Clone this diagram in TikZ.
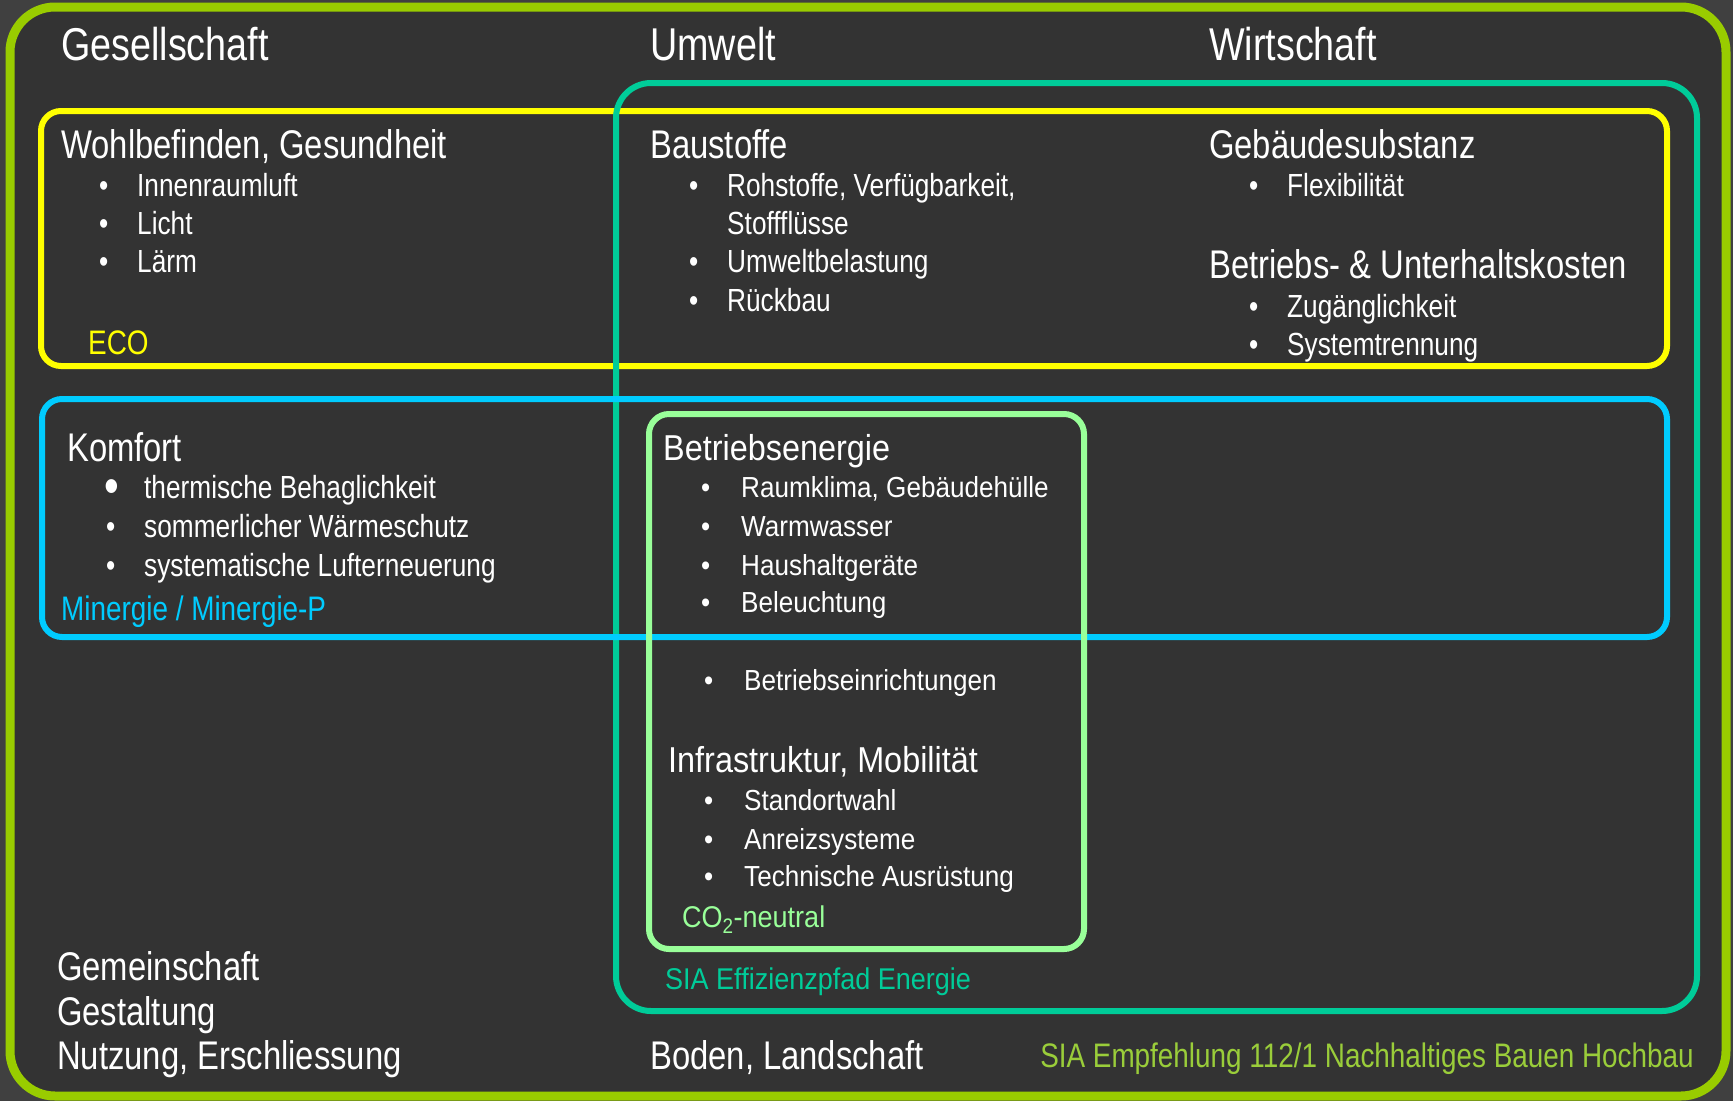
\documentclass[tikz,border=0pt]{standalone}
\usepackage{fontspec}
\setmainfont{Liberation Sans}
\newfontfamily\narrowfont[FakeStretch=0.82]{Liberation Sans}
\newfontfamily\widefont[FakeStretch=0.9]{Liberation Sans}
\usetikzlibrary{positioning}

\definecolor{bgout}{HTML}{404040}
\definecolor{bgin}{HTML}{333333}
\definecolor{framegreen}{HTML}{99CC00}
\definecolor{ecoyellow}{HTML}{FFFF00}
\definecolor{siateal}{HTML}{00CC99}
\definecolor{minblue}{HTML}{00CCFF}
\definecolor{colight}{HTML}{99FF99}
\definecolor{siatext}{HTML}{9ACD3A}

\tikzset{
  title/.style={anchor=base west, inner sep=0pt, text=white,
    font=\narrowfont\fontsize{46}{50}\selectfont},
  head/.style={anchor=base west, inner sep=0pt, text=white,
    font=\narrowfont\fontsize{40}{44}\selectfont},
  item/.style={anchor=base west, inner sep=0pt, text=white,
    font=\narrowfont\fontsize{32}{36}\selectfont},
  ehead/.style={anchor=base west, inner sep=0pt, text=white,
    font=\widefont\fontsize{36}{40}\selectfont},
  eitem/.style={anchor=base west, inner sep=0pt, text=white,
    font=\widefont\fontsize{29}{33}\selectfont},
  tag/.style={anchor=base west, inner sep=0pt,
    font=\narrowfont\fontsize{34}{37}\selectfont},
  etag/.style={anchor=base west, inner sep=0pt,
    font=\widefont\fontsize{30}{34}\selectfont},
  frame/.style={line width=6pt, rounded corners=20pt}
}
\newcommand{\bul}[1]{\makebox[#1pt][l]{\textbullet}}

\begin{document}
\begin{tikzpicture}[x=1pt,y=-1pt]
    \useasboundingbox (0,0) rectangle (1733,1101);
    \fill[bgout] (0,0) rectangle (1733,1101);
    \draw[framegreen, fill=bgin, line width=9pt, rounded corners=45pt]
      (10,7) rectangle (1726,1096);

    % frames
    \draw[frame, ecoyellow] (41,111) rectangle (1667,366);
    \draw[frame, siateal, rounded corners=35pt] (616,83) rectangle (1697,1011);
    \draw[frame, minblue] (42,399) rectangle (1667,637);
    \draw[frame, colight] (649,414) rectangle (1084,949);

    % column titles
    \node[title] (ges) at (61,60) {Gesellschaft};
    \node[title] (umw) at (650,60) {Umwelt};
    \node[title] (wir) at (1209,60) {Wirtschaft};

    % ECO
    \node[head] (wohl) at (61,158) {Wohlbefinden, Gesundheit};
    \node[item] (wohl1) at (99,196) {\bul{38}Innenraumluft};
    \node[item] (wohl2) at (99,234) {\bul{38}Licht};
    \node[item] (wohl3) at (99,272) {\bul{38}Lärm};
    \node[tag, text=ecoyellow] (eco) at (88,354) {ECO};

    \node[head] (bau) at (650,158) {Baustoffe};
    \node[item] (bau1) at (689,196) {\bul{38}Rohstoffe, Verfügbarkeit,};
    \node[item] (bau1b) at (727,234) {Stoffflüsse};
    \node[item] (bau2) at (689,272) {\bul{38}Umweltbelastung};
    \node[item] (bau3) at (689,311) {\bul{38}Rückbau};

    \node[head] (subst) at (1209,158) {Gebäudesubstanz};
    \node[item] (subst1) at (1249,196) {\bul{38}Flexibilität};
    \node[head] (kost) at (1209,278) {Betriebs- \& Unterhaltskosten};
    \node[item] (kost1) at (1249,317) {\bul{38}Zugänglichkeit};
    \node[item] (kost2) at (1249,355) {\bul{38}Systemtrennung};

    % Minergie
    \node[head] (komf) at (67,461) {Komfort};
    \node[item] (komf1) at (104,498)
      {\makebox[40pt][l]{\raisebox{-0.17em}{\scalebox{1.6}{\textbullet}}}thermische Behaglichkeit};
    \node[item] (komf2) at (106,537) {\bul{38}sommerlicher Wärmeschutz};
    \node[item] (komf3) at (106,576) {\bul{38}systematische Lufterneuerung};
    \node[tag, text=minblue] (min) at (61,620) {Minergie / Minergie-P};

    % CO2-neutral
    \node[ehead] (energ) at (663,460) {Betriebsenergie};
    \node[eitem] (energ1) at (701,497) {\bul{40}Raumklima, Gebäudehülle};
    \node[eitem] (energ2) at (701,536) {\bul{40}Warmwasser};
    \node[eitem] (energ3) at (701,575) {\bul{40}Haushaltgeräte};
    \node[eitem] (energ4) at (701,612) {\bul{40}Beleuchtung};
    \node[eitem] (einr) at (704,690) {\bul{40}Betriebseinrichtungen};
    \node[ehead] (infra) at (668,772) {Infrastruktur, Mobilität};
    \node[eitem] (infra1) at (704,810) {\bul{40}Standortwahl};
    \node[eitem] (infra2) at (704,849) {\bul{40}Anreizsysteme};
    \node[eitem] (infra3) at (704,886) {\bul{40}Technische Ausrüstung};
    \node[etag, text=colight] (co2) at (682,927) {CO\textsubscript{2}-neutral};
    \node[etag, text=siateal] (effiz) at (665,989) {SIA Effizienzpfad Energie};

    % bottom
    \node[head] (gem) at (57,980) {Gemeinschaft};
    \node[head] (gest) at (57,1025) {Gestaltung};
    \node[head] (nutz) at (57,1069) {Nutzung, Erschliessung};
    \node[head] (boden) at (650,1069) {Boden, Landschaft};
    \node[tag, anchor=base east, text=siatext] (sia) at (1694,1067)
      {SIA Empfehlung 112/1 Nachhaltiges Bauen Hochbau};
  \end{tikzpicture}
\end{document}
